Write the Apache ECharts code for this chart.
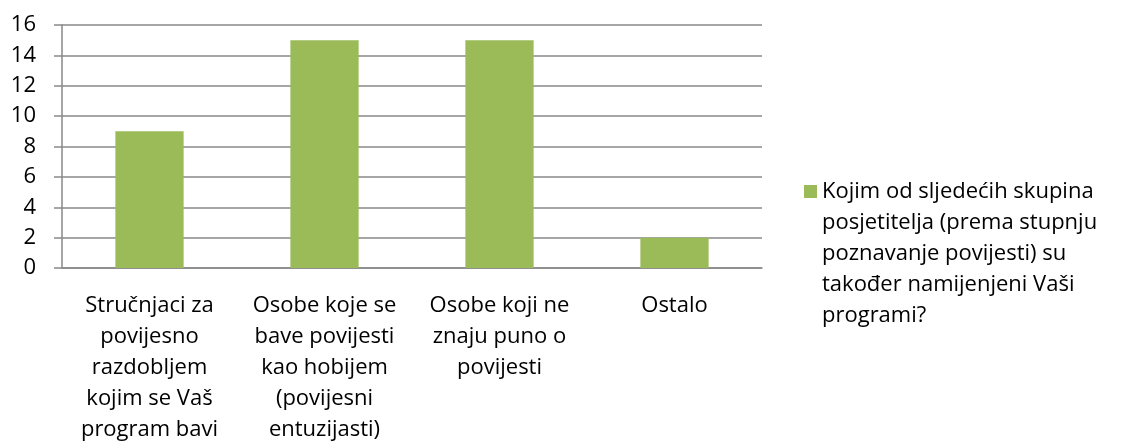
<!DOCTYPE html>
<html>
<head>
<meta charset="utf-8">
<script src="https://cdn.jsdelivr.net/npm/echarts@6/dist/echarts.min.js"></script>
<style>
  html, body { margin: 0; padding: 0; background: #fff; }
  #chart { width: 1122px; height: 445px; }
</style>
</head>
<body>
<div id="chart"></div>
<script>
// podaci s grafikona
const categories = [
  'Stručnjaci za\npovijesno\nrazdobljem\nkojim se Vaš\nprogram bavi',
  'Osobe koje se\nbave povijesti\nkao hobijem\n(povijesni\nentuzijasti)',
  'Osobe koji ne\nznaju puno o\npovijesti',
  'Ostalo'
];
const values = [9, 15, 15, 2];
const seriesName = 'Kojim od sljedećih skupina\nposjetitelja (prema stupnju\npoznavanje povijesti) su\ntakođer namijenjeni Vaši\nprogrami?';

const font = 'Open Sans';
const gray = '#898989';

let myChart = echarts.init(document.getElementById('chart'));

myChart.setOption({
  animation: false,
  grid: { left: 62, right: 360, top: 25, bottom: 174 },
  legend: {
    left: 804,
    top: 52,
    padding: 0,
    itemWidth: 13,
    itemHeight: 13,
    icon: 'rect',
    // prazni redovi da prvi red teksta stoji uz kvadratić
    formatter: name => '\n\n\n\n' + name,
    textStyle: {
      fontFamily: font,
      fontSize: 22,
      color: '#000',
      lineHeight: 31
    }
  },
  xAxis: {
    type: 'category',
    data: categories,
    axisLine: { lineStyle: { color: gray, width: 1.5 } },
    axisTick: { length: 7, lineStyle: { color: gray, width: 1.5 } },
    axisLabel: {
      interval: 0,
      margin: 22,
      fontFamily: font,
      fontSize: 22,
      color: '#000',
      lineHeight: 31
    }
  },
  yAxis: {
    type: 'value',
    min: 0,
    max: 16,
    interval: 2,
    axisLine: { show: true, lineStyle: { color: gray, width: 1.5 } },
    axisTick: { show: true, length: 8, lineStyle: { color: gray, width: 1.5 } },
    splitLine: { lineStyle: { color: gray, width: 1.5 } },
    axisLabel: {
      margin: 26,
      fontFamily: font,
      fontSize: 22,
      color: '#000'
    }
  },
  series: [{
    name: seriesName,
    type: 'bar',
    data: values,
    barWidth: '39%',
    itemStyle: { color: '#9BBB59' }
  }]
});
</script>
</body>
</html>
